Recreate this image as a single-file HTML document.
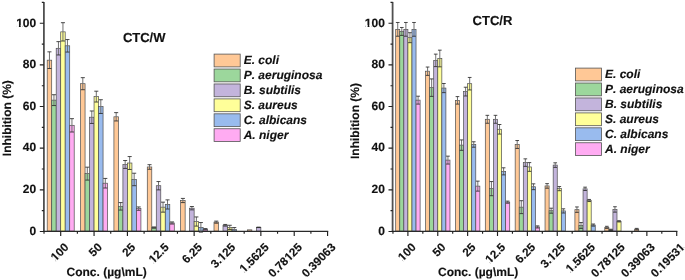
<!DOCTYPE html>
<html><head><meta charset="utf-8"><style>
html,body{margin:0;padding:0;background:#fff;width:685px;height:280px;overflow:hidden}
svg{display:block;will-change:transform}
rect{stroke:#4d4d4d;stroke-width:0.7}
g.cv rect{fill:#fff;stroke:none}
rect.lg{stroke:#555;stroke-width:0.8}
.ev{stroke:#707070;stroke-width:1.0;fill:none}
.ec{stroke:#2a2a2a;stroke-width:0.85;fill:none}
.ax{stroke:#2a2a2a;stroke-width:1.4;fill:none}
.ay{stroke:#505050;stroke-width:1.8;fill:none}
.tk{stroke:#222;stroke-width:1.15;fill:none}
text{font-family:"Liberation Sans",sans-serif;font-weight:bold;fill:#111;stroke:#111;stroke-width:0.15;font-kerning:none;text-rendering:geometricPrecision}
</style></head><body>
<svg width="685" height="280" viewBox="0 0 685 280">
<rect x="0" y="0" width="685" height="280" fill="#fff" style="stroke:none"/>
<g>
<rect x="47.2" y="60.17" width="4.5" height="170.93" fill="#FFC896"/>
<rect x="51.7" y="100.14" width="4.5" height="130.96" fill="#9CD79C"/>
<rect x="56.2" y="48.3" width="4.5" height="182.8" fill="#C3B4DC"/>
<rect x="60.7" y="31.85" width="4.5" height="199.25" fill="#FFFF99"/>
<rect x="65.2" y="45.8" width="4.5" height="185.3" fill="#99BBEE"/>
<rect x="69.7" y="125.33" width="4.5" height="105.77" fill="#FFABF2"/>
<rect x="80.56" y="83.69" width="4.5" height="147.41" fill="#FFC896"/>
<rect x="85.06" y="173.64" width="4.5" height="57.46" fill="#9CD79C"/>
<rect x="89.56" y="117.21" width="4.5" height="113.89" fill="#C3B4DC"/>
<rect x="94.06" y="96.6" width="4.5" height="134.5" fill="#FFFF99"/>
<rect x="98.56" y="106.6" width="4.5" height="124.5" fill="#99BBEE"/>
<rect x="103.06" y="183.21" width="4.5" height="47.89" fill="#FFABF2"/>
<rect x="113.92" y="116.8" width="4.5" height="114.3" fill="#FFC896"/>
<rect x="118.42" y="206.32" width="4.5" height="24.78" fill="#9CD79C"/>
<rect x="122.92" y="164.48" width="4.5" height="66.62" fill="#C3B4DC"/>
<rect x="127.42" y="163.02" width="4.5" height="68.08" fill="#FFFF99"/>
<rect x="131.92" y="179.47" width="4.5" height="51.63" fill="#99BBEE"/>
<rect x="136.42" y="208.61" width="4.5" height="22.49" fill="#FFABF2"/>
<rect x="147.28" y="166.97" width="4.5" height="64.13" fill="#FFC896"/>
<rect x="151.78" y="227.56" width="4.5" height="3.54" fill="#9CD79C"/>
<rect x="156.28" y="185.71" width="4.5" height="45.39" fill="#C3B4DC"/>
<rect x="160.78" y="207.16" width="4.5" height="23.94" fill="#FFFF99"/>
<rect x="165.28" y="204.45" width="4.5" height="26.65" fill="#99BBEE"/>
<rect x="169.78" y="222.98" width="4.5" height="8.12" fill="#FFABF2"/>
<rect x="180.64" y="200.49" width="4.5" height="30.61" fill="#FFC896"/>
<rect x="189.64" y="208.2" width="4.5" height="22.9" fill="#C3B4DC"/>
<rect x="194.14" y="221.52" width="4.5" height="9.58" fill="#FFFF99"/>
<rect x="198.64" y="227.35" width="4.5" height="3.75" fill="#99BBEE"/>
<rect x="203.14" y="229.23" width="4.5" height="1.87" fill="#FFABF2"/>
<rect x="214" y="222.15" width="4.5" height="8.95" fill="#FFC896"/>
<rect x="223" y="225.27" width="4.5" height="5.83" fill="#C3B4DC"/>
<rect x="227.5" y="227.35" width="4.5" height="3.75" fill="#FFFF99"/>
<rect x="232" y="229.43" width="4.5" height="1.67" fill="#99BBEE"/>
<rect x="247.36" y="229.85" width="4.5" height="1.25" fill="#FFC896"/>
<rect x="256.36" y="227.35" width="4.5" height="3.75" fill="#C3B4DC"/>
<path d="M43.9 1.93V231.4" class="ay"/>
<path d="M43 231.35H328.18" class="ax"/>
<path d="M43.9 231.45H39.8M43.9 210.63H41.8M43.9 189.81H39.8M43.9 168.99H41.8M43.9 148.17H39.8M43.9 127.35H41.8M43.9 106.53H39.8M43.9 85.71H41.8M43.9 64.89H39.8M43.9 44.07H41.8M43.9 23.25H39.8M43.9 2.43H41.8M60.7 231.1V235.9M44.02 231.1V233.8M94.06 231.1V235.9M77.38 231.1V233.8M127.42 231.1V235.9M110.74 231.1V233.8M160.78 231.1V235.9M144.1 231.1V233.8M194.14 231.1V235.9M177.46 231.1V233.8M227.5 231.1V235.9M210.82 231.1V233.8M260.86 231.1V235.9M244.18 231.1V233.8M294.22 231.1V235.9M277.54 231.1V233.8M327.58 231.1V235.9M310.9 231.1V233.8" class="tk"/>
<rect x="214.1" y="54.1" width="26.1" height="12.8" fill="#FFC896" class="lg"/>
<rect x="214.1" y="69.03" width="26.1" height="12.8" fill="#9CD79C" class="lg"/>
<rect x="214.1" y="83.96" width="26.1" height="12.8" fill="#C3B4DC" class="lg"/>
<rect x="214.1" y="98.89" width="26.1" height="12.8" fill="#FFFF99" class="lg"/>
<rect x="214.1" y="113.82" width="26.1" height="12.8" fill="#99BBEE" class="lg"/>
<rect x="214.1" y="128.75" width="26.1" height="12.8" fill="#FFABF2" class="lg"/>
<rect x="395.69" y="29.35" width="4.07" height="201.75" fill="#FFC896"/>
<rect x="399.76" y="31.44" width="4.07" height="199.66" fill="#9CD79C"/>
<rect x="403.83" y="29.35" width="4.07" height="201.75" fill="#C3B4DC"/>
<rect x="407.9" y="37.68" width="4.07" height="193.42" fill="#FFFF99"/>
<rect x="411.97" y="29.35" width="4.07" height="201.75" fill="#99BBEE"/>
<rect x="416.04" y="100.14" width="4.07" height="130.96" fill="#FFABF2"/>
<rect x="425.56" y="71.2" width="4.07" height="159.9" fill="#FFC896"/>
<rect x="429.63" y="87.65" width="4.07" height="143.45" fill="#9CD79C"/>
<rect x="433.7" y="60.38" width="4.07" height="170.72" fill="#C3B4DC"/>
<rect x="437.77" y="58.5" width="4.07" height="172.6" fill="#FFFF99"/>
<rect x="441.84" y="88.07" width="4.07" height="143.03" fill="#99BBEE"/>
<rect x="445.91" y="160.1" width="4.07" height="71" fill="#FFABF2"/>
<rect x="455.43" y="100.35" width="4.07" height="130.75" fill="#FFC896"/>
<rect x="459.5" y="145.11" width="4.07" height="85.99" fill="#9CD79C"/>
<rect x="463.57" y="91.61" width="4.07" height="139.49" fill="#C3B4DC"/>
<rect x="467.64" y="83.69" width="4.07" height="147.41" fill="#FFFF99"/>
<rect x="471.71" y="144.49" width="4.07" height="86.61" fill="#99BBEE"/>
<rect x="475.78" y="186.13" width="4.07" height="44.97" fill="#FFABF2"/>
<rect x="485.3" y="119.3" width="4.07" height="111.8" fill="#FFC896"/>
<rect x="489.37" y="188.63" width="4.07" height="42.47" fill="#9CD79C"/>
<rect x="493.44" y="119.3" width="4.07" height="111.8" fill="#C3B4DC"/>
<rect x="497.51" y="129.29" width="4.07" height="101.81" fill="#FFFF99"/>
<rect x="501.58" y="171.35" width="4.07" height="59.75" fill="#99BBEE"/>
<rect x="505.65" y="202.16" width="4.07" height="28.94" fill="#FFABF2"/>
<rect x="515.17" y="144.49" width="4.07" height="86.61" fill="#FFC896"/>
<rect x="519.24" y="207.16" width="4.07" height="23.94" fill="#9CD79C"/>
<rect x="523.31" y="162.6" width="4.07" height="68.5" fill="#C3B4DC"/>
<rect x="527.38" y="166.97" width="4.07" height="64.13" fill="#FFFF99"/>
<rect x="531.45" y="186.75" width="4.07" height="44.35" fill="#99BBEE"/>
<rect x="535.52" y="226.94" width="4.07" height="4.16" fill="#FFABF2"/>
<rect x="545.04" y="185.92" width="4.07" height="45.18" fill="#FFC896"/>
<rect x="549.11" y="210.7" width="4.07" height="20.4" fill="#9CD79C"/>
<rect x="553.18" y="165.1" width="4.07" height="66" fill="#C3B4DC"/>
<rect x="557.25" y="188.63" width="4.07" height="42.47" fill="#FFFF99"/>
<rect x="561.32" y="210.9" width="4.07" height="20.2" fill="#99BBEE"/>
<rect x="574.91" y="209.66" width="4.07" height="21.44" fill="#FFC896"/>
<rect x="578.98" y="225.48" width="4.07" height="5.62" fill="#9CD79C"/>
<rect x="583.05" y="188.84" width="4.07" height="42.26" fill="#C3B4DC"/>
<rect x="587.12" y="200.49" width="4.07" height="30.61" fill="#FFFF99"/>
<rect x="591.19" y="225.06" width="4.07" height="6.04" fill="#99BBEE"/>
<rect x="604.78" y="227.35" width="4.07" height="3.75" fill="#FFC896"/>
<rect x="608.85" y="229.85" width="4.07" height="1.25" fill="#9CD79C"/>
<rect x="612.92" y="209.45" width="4.07" height="21.65" fill="#C3B4DC"/>
<rect x="616.99" y="221.31" width="4.07" height="9.79" fill="#FFFF99"/>
<rect x="634.65" y="229.12" width="4.07" height="1.98" fill="#FFC896"/>
<path d="M392.6 1.93V231.4" class="ay"/>
<path d="M391.7 231.35H677.33" class="ax"/>
<path d="M392.6 231.45H388.5M392.6 210.63H390.5M392.6 189.81H388.5M392.6 168.99H390.5M392.6 148.17H388.5M392.6 127.35H390.5M392.6 106.53H388.5M392.6 85.71H390.5M392.6 64.89H388.5M392.6 44.07H390.5M392.6 23.25H388.5M392.6 2.43H390.5M407.9 231.1V235.9M392.96 231.1V233.8M437.77 231.1V235.9M422.83 231.1V233.8M467.64 231.1V235.9M452.7 231.1V233.8M497.51 231.1V235.9M482.57 231.1V233.8M527.38 231.1V235.9M512.45 231.1V233.8M557.25 231.1V235.9M542.32 231.1V233.8M587.12 231.1V235.9M572.19 231.1V233.8M616.99 231.1V235.9M602.06 231.1V233.8M646.86 231.1V235.9M631.93 231.1V233.8M676.73 231.1V235.9M661.8 231.1V233.8" class="tk"/>
<rect x="575.4" y="68.1" width="26.1" height="12.8" fill="#FFC896" class="lg"/>
<rect x="575.4" y="83.03" width="26.1" height="12.8" fill="#9CD79C" class="lg"/>
<rect x="575.4" y="97.96" width="26.1" height="12.8" fill="#C3B4DC" class="lg"/>
<rect x="575.4" y="112.89" width="26.1" height="12.8" fill="#FFFF99" class="lg"/>
<rect x="575.4" y="127.82" width="26.1" height="12.8" fill="#99BBEE" class="lg"/>
<rect x="575.4" y="142.75" width="26.1" height="12.8" fill="#FFABF2" class="lg"/>
<path class="ev" d="M49.45 51.84V68.5M53.95 94.73V105.56M58.45 41.64V54.96M62.95 22.69V41.01M67.45 39.56V52.05M71.95 118.67V132M82.81 77.66V89.73M87.31 167.18V180.09M91.81 110.97V123.46M96.31 91.19V102.02M100.81 99.73V113.47M105.31 178.43V188M116.17 112.63V120.96M120.67 202.58V210.07M125.17 160.52V168.43M129.67 156.56V169.47M134.17 173.22V185.71M138.67 206.95V210.28M149.53 164.68V169.26M154.03 226.94V228.19M158.53 181.55V189.88M163.03 202.16V212.15M167.53 199.87V209.03M172.03 221.94V224.02M182.89 198.41V202.58M191.89 206.53V209.86M196.39 216.94V226.1M200.89 222.56V232.14M205.39 228.6V229.85M216.25 221.11V223.19M225.25 224.44V226.1M229.75 225.27V229.43M234.25 227.56V231.31M258.61 227.14V227.56M397.73 22.48V36.22M401.8 27.48V35.39M405.87 22.48V36.22M409.94 32.69V42.68M414.01 22.48V36.22M418.08 96.19V104.1M427.6 67.04V75.37M431.67 78.91V96.39M435.74 54.13V66.62M439.81 50.17V66.83M443.88 83.49V92.65M447.95 156.15V164.06M457.47 96.6V104.1M461.54 139.91V150.32M465.61 87.23V95.98M469.68 77.45V89.94M473.75 141.78V147.2M477.82 181.13V191.13M487.34 115.34V123.25M491.41 181.55V195.71M495.48 115.34V123.25M499.55 124.5V134.08M503.62 167.81V174.89M507.69 201.12V203.2M517.2 140.53V148.44M521.27 200.7V213.61M525.34 158.85V166.35M529.41 162.6V171.35M533.48 183.84V189.67M537.55 225.89V227.98M547.07 183.63V188.21M551.14 208.2V213.19M555.21 162.81V167.39M559.28 186.55V190.71M563.35 208.82V212.99M576.94 206.95V212.36M581.01 222.56V228.39M585.08 187.17V190.5M589.15 199.45V201.54M593.22 224.02V226.1M606.81 226.31V228.39M610.88 229.23V230.48M614.95 206.74V212.15M619.02 220.69V221.94M636.68 228.39V229.85"/>
<path class="ec" d="M47.43 51.84H51.48M47.43 68.5H51.48M51.93 94.73H55.98M51.93 105.56H55.98M56.43 41.64H60.48M56.43 54.96H60.48M60.93 22.69H64.98M60.93 41.01H64.98M65.42 39.56H69.48M65.42 52.05H69.48M69.92 118.67H73.98M69.92 132H73.98M80.78 77.66H84.84M80.78 89.73H84.84M85.28 167.18H89.34M85.28 180.09H89.34M89.78 110.97H93.84M89.78 123.46H93.84M94.28 91.19H98.34M94.28 102.02H98.34M98.78 99.73H102.84M98.78 113.47H102.84M103.28 178.43H107.34M103.28 188H107.34M114.14 112.63H118.2M114.14 120.96H118.2M118.64 202.58H122.7M118.64 210.07H122.7M123.14 160.52H127.2M123.14 168.43H127.2M127.65 156.56H131.7M127.65 169.47H131.7M132.15 173.22H136.2M132.15 185.71H136.2M136.65 206.95H140.7M136.65 210.28H140.7M147.5 164.68H151.56M147.5 169.26H151.56M152 226.94H156.06M152 228.19H156.06M156.5 181.55H160.56M156.5 189.88H160.56M161 202.16H165.06M161 212.15H165.06M165.5 199.87H169.56M165.5 209.03H169.56M170 221.94H174.06M170 224.02H174.06M180.86 198.41H184.91M180.86 202.58H184.91M189.86 206.53H193.91M189.86 209.86H193.91M194.36 216.94H198.41M194.36 226.1H198.41M198.86 222.56H202.91M198.86 232.14H202.91M203.36 228.6H207.41M203.36 229.85H207.41M214.22 221.11H218.28M214.22 223.19H218.28M223.22 224.44H227.28M223.22 226.1H227.28M227.72 225.27H231.78M227.72 229.43H231.78M232.22 227.56H236.28M232.22 231.31H236.28M256.59 227.14H260.63M256.59 227.56H260.63M395.89 22.48H399.56M395.89 36.22H399.56M399.96 27.48H403.63M399.96 35.39H403.63M404.03 22.48H407.7M404.03 36.22H407.7M408.1 32.69H411.77M408.1 42.68H411.77M412.17 22.48H415.84M412.17 36.22H415.84M416.24 96.19H419.91M416.24 104.1H419.91M425.76 67.04H429.43M425.76 75.37H429.43M429.83 78.91H433.5M429.83 96.39H433.5M433.9 54.13H437.57M433.9 66.62H437.57M437.97 50.17H441.64M437.97 66.83H441.64M442.04 83.49H445.71M442.04 92.65H445.71M446.11 156.15H449.78M446.11 164.06H449.78M455.63 96.6H459.3M455.63 104.1H459.3M459.7 139.91H463.37M459.7 150.32H463.37M463.77 87.23H467.44M463.77 95.98H467.44M467.84 77.45H471.51M467.84 89.94H471.51M471.91 141.78H475.58M471.91 147.2H475.58M475.98 181.13H479.65M475.98 191.13H479.65M485.5 115.34H489.17M485.5 123.25H489.17M489.57 181.55H493.24M489.57 195.71H493.24M493.64 115.34H497.31M493.64 123.25H497.31M497.71 124.5H501.38M497.71 134.08H501.38M501.78 167.81H505.45M501.78 174.89H505.45M505.85 201.12H509.52M505.85 203.2H509.52M515.37 140.53H519.04M515.37 148.44H519.04M519.44 200.7H523.11M519.44 213.61H523.11M523.51 158.85H527.18M523.51 166.35H527.18M527.58 162.6H531.25M527.58 171.35H531.25M531.65 183.84H535.32M531.65 189.67H535.32M535.72 225.89H539.39M535.72 227.98H539.39M545.24 183.63H548.91M545.24 188.21H548.91M549.31 208.2H552.98M549.31 213.19H552.98M553.38 162.81H557.05M553.38 167.39H557.05M557.45 186.55H561.12M557.45 190.71H561.12M561.52 208.82H565.19M561.52 212.99H565.19M575.11 206.95H578.78M575.11 212.36H578.78M579.18 222.56H582.85M579.18 228.39H582.85M583.25 187.17H586.92M583.25 190.5H586.92M587.32 199.45H590.99M587.32 201.54H590.99M591.39 224.02H595.06M591.39 226.1H595.06M604.98 226.31H608.65M604.98 228.39H608.65M609.05 229.23H612.72M609.05 230.48H612.72M613.12 206.74H616.79M613.12 212.15H616.79M617.19 220.69H620.86M617.19 221.94H620.86M634.85 228.39H638.52M634.85 229.85H638.52"/>
<text x="36.2" y="234.7" font-size="12" text-anchor="end">0</text>
<text x="36.2" y="193.06" font-size="12" text-anchor="end">20</text>
<text x="36.2" y="151.42" font-size="12" text-anchor="end">40</text>
<text x="36.2" y="109.78" font-size="12" text-anchor="end">60</text>
<text x="36.2" y="68.14" font-size="12" text-anchor="end">80</text>
<text x="36.2" y="26.5" font-size="12" text-anchor="end">100</text>
<text transform="translate(69.4 248) rotate(-45)" font-size="11.7" text-anchor="end">100</text>
<text transform="translate(102.76 248) rotate(-45)" font-size="11.7" text-anchor="end">50</text>
<text transform="translate(136.12 248) rotate(-45)" font-size="11.7" text-anchor="end">25</text>
<text transform="translate(169.48 248) rotate(-45)" font-size="11.7" text-anchor="end">12.5</text>
<text transform="translate(202.84 248) rotate(-45)" font-size="11.7" text-anchor="end">6.25</text>
<text transform="translate(236.2 248) rotate(-45)" font-size="11.7" text-anchor="end">3.125</text>
<text transform="translate(269.56 248) rotate(-45)" font-size="11.7" text-anchor="end">1.5625</text>
<text transform="translate(302.92 248) rotate(-45)" font-size="11.7" text-anchor="end">0.78125</text>
<text transform="translate(336.28 248) rotate(-45)" font-size="11.7" text-anchor="end">0.39063</text>
<text x="122.9" y="42.2" font-size="13">CTC/W</text>
<text x="243.7" y="64.3" font-size="12" font-style="italic">E. coli</text>
<text x="243.7" y="79.23" font-size="12" font-style="italic">P. aeruginosa</text>
<text x="243.7" y="94.16" font-size="12" font-style="italic">B. subtilis</text>
<text x="243.7" y="109.09" font-size="12" font-style="italic">S. aureus</text>
<text x="243.7" y="124.02" font-size="12" font-style="italic">C. albicans</text>
<text x="243.7" y="138.95" font-size="12" font-style="italic">A. niger</text>
<text transform="translate(10.9 118.2) rotate(-90)" font-size="12" text-anchor="middle">Inhibition (%)</text>
<text x="66.5" y="275.9" font-size="12">Conc. (µg\mL)</text>
<text x="384.9" y="234.7" font-size="12" text-anchor="end">0</text>
<text x="384.9" y="193.06" font-size="12" text-anchor="end">20</text>
<text x="384.9" y="151.42" font-size="12" text-anchor="end">40</text>
<text x="384.9" y="109.78" font-size="12" text-anchor="end">60</text>
<text x="384.9" y="68.14" font-size="12" text-anchor="end">80</text>
<text x="384.9" y="26.5" font-size="12" text-anchor="end">100</text>
<text transform="translate(416.6 248) rotate(-45)" font-size="11.7" text-anchor="end">100</text>
<text transform="translate(446.47 248) rotate(-45)" font-size="11.7" text-anchor="end">50</text>
<text transform="translate(476.34 248) rotate(-45)" font-size="11.7" text-anchor="end">25</text>
<text transform="translate(506.21 248) rotate(-45)" font-size="11.7" text-anchor="end">12.5</text>
<text transform="translate(536.08 248) rotate(-45)" font-size="11.7" text-anchor="end">6.25</text>
<text transform="translate(565.95 248) rotate(-45)" font-size="11.7" text-anchor="end">3.125</text>
<text transform="translate(595.82 248) rotate(-45)" font-size="11.7" text-anchor="end">1.5625</text>
<text transform="translate(625.69 248) rotate(-45)" font-size="11.7" text-anchor="end">0.78125</text>
<text transform="translate(655.56 248) rotate(-45)" font-size="11.7" text-anchor="end">0.39063</text>
<text transform="translate(685.43 248) rotate(-45)" font-size="11.7" text-anchor="end">0.19531</text>
<text x="472.6" y="24.5" font-size="13">CTC/R</text>
<text x="605" y="78.3" font-size="12" font-style="italic">E. coli</text>
<text x="605" y="93.23" font-size="12" font-style="italic">P. aeruginosa</text>
<text x="605" y="108.16" font-size="12" font-style="italic">B. subtilis</text>
<text x="605" y="123.09" font-size="12" font-style="italic">S. aureus</text>
<text x="605" y="138.02" font-size="12" font-style="italic">C. albicans</text>
<text x="605" y="152.95" font-size="12" font-style="italic">A. niger</text>
<text transform="translate(358.6 121) rotate(-90)" font-size="12" text-anchor="middle">Inhibition (%)</text>
<text x="438" y="275.9" font-size="12">Conc. (µg\mL)</text>
<g class="cv"><g transform="translate(36.2 26.5)"><rect x="-19.41" y="-1.47" width="2.12" height="2.07"/><rect x="-15.51" y="-1.47" width="1.97" height="2.07"/></g><g transform="translate(69.4 248) rotate(-45)"><rect x="-18.92" y="-1.44" width="2.07" height="2.04"/><rect x="-15.12" y="-1.44" width="1.93" height="2.04"/></g><g transform="translate(169.48 248) rotate(-45)"><rect x="-22.17" y="-1.44" width="2.07" height="2.04"/><rect x="-18.38" y="-1.44" width="1.93" height="2.04"/></g><g transform="translate(236.2 248) rotate(-45)"><rect x="-18.92" y="-1.44" width="2.07" height="2.04"/><rect x="-15.12" y="-1.44" width="1.93" height="2.04"/></g><g transform="translate(269.56 248) rotate(-45)"><rect x="-35.19" y="-1.44" width="2.07" height="2.04"/><rect x="-31.39" y="-1.44" width="1.93" height="2.04"/></g><g transform="translate(302.92 248) rotate(-45)"><rect x="-18.92" y="-1.44" width="2.07" height="2.04"/><rect x="-15.12" y="-1.44" width="1.93" height="2.04"/></g><g transform="translate(384.9 26.5)"><rect x="-19.41" y="-1.47" width="2.12" height="2.07"/><rect x="-15.51" y="-1.47" width="1.97" height="2.07"/></g><g transform="translate(416.6 248) rotate(-45)"><rect x="-18.92" y="-1.44" width="2.07" height="2.04"/><rect x="-15.12" y="-1.44" width="1.93" height="2.04"/></g><g transform="translate(506.21 248) rotate(-45)"><rect x="-22.17" y="-1.44" width="2.07" height="2.04"/><rect x="-18.38" y="-1.44" width="1.93" height="2.04"/></g><g transform="translate(565.95 248) rotate(-45)"><rect x="-18.92" y="-1.44" width="2.07" height="2.04"/><rect x="-15.12" y="-1.44" width="1.93" height="2.04"/></g><g transform="translate(595.82 248) rotate(-45)"><rect x="-35.19" y="-1.44" width="2.07" height="2.04"/><rect x="-31.39" y="-1.44" width="1.93" height="2.04"/></g><g transform="translate(625.69 248) rotate(-45)"><rect x="-18.92" y="-1.44" width="2.07" height="2.04"/><rect x="-15.12" y="-1.44" width="1.93" height="2.04"/></g><g transform="translate(685.43 248) rotate(-45)"><rect x="-31.94" y="-1.44" width="2.07" height="2.04"/><rect x="-28.14" y="-1.44" width="1.93" height="2.04"/><rect x="-5.91" y="-1.44" width="2.07" height="2.04"/><rect x="-2.11" y="-1.44" width="1.93" height="2.04"/></g></g>
</g>
</svg>
</body></html>
